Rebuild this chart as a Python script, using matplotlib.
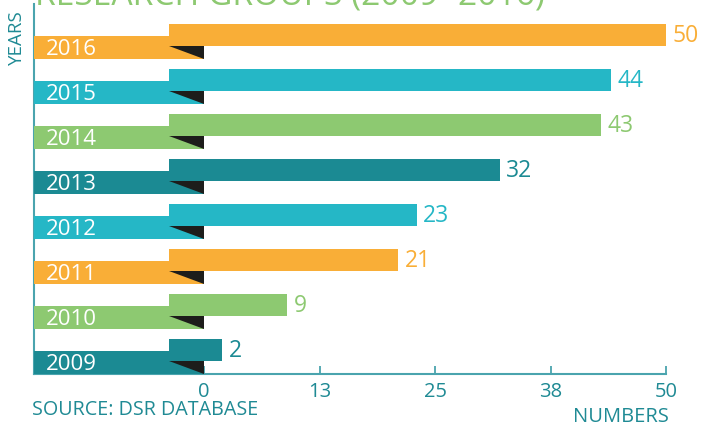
import matplotlib
matplotlib.use("Agg")
import matplotlib.pyplot as plt
from matplotlib.patches import Polygon

plt.rcParams['font.family'] = ['Open Sans', 'DejaVu Sans']

# ---- data ----
years = ['2009', '2010', '2011', '2012', '2013', '2014', '2015', '2016']
values = [2, 9, 21, 23, 32, 43, 44, 50]
bar_colors = ['#1b8a93', '#8dc971', '#f9ae37', '#25b7c6',
              '#1b8a93', '#8dc971', '#25b7c6', '#f9ae37']
tick_values = [0, 12.5, 25, 37.5, 50]
tick_labels = ['0', '13', '25', '38', '50']
title = 'RESEARCH GROUPS (2009- 2016)'

TEAL = '#1f8a94'
AXIS = '#4aa4ae'

W, H = 701, 427
fig = plt.figure(figsize=(W / 100, H / 100), dpi=100)
ax = fig.add_axes([34 / W, (H - 375) / H, (666 - 34) / W, (375 - 5) / H])

xmin, xmax = -18.4, 50
ax.set_xlim(xmin, xmax)
ax.set_ylim(0, 370 / 45)

bar_start = -3.84
upper_off, upper_h = 0.282, 0.496
label_h = 0.511

for i, (yr, v, c) in enumerate(zip(years, values, bar_colors)):
    # label ribbon
    ax.barh(i, 0 - xmin, left=xmin, height=label_h, align='edge',
            color=c, zorder=3, linewidth=0)
    # fold triangle
    tri = Polygon([(bar_start, i + upper_off), (0, i + upper_off), (0, i)],
                  closed=True, facecolor='#1d1d1b', edgecolor='none', zorder=4)
    ax.add_patch(tri)
    # value bar
    ax.barh(i + upper_off, v - bar_start, left=bar_start, height=upper_h,
            align='edge', color=c, zorder=5, linewidth=0)
    ax.text(xmin + 1.3, i + 0.23, yr, color='white', fontsize=16,
            ha='left', va='center', zorder=6)
    ax.text(v + 0.7, i + upper_off + upper_h / 2, str(v), color=c,
            fontsize=16.5, ha='left', va='center', zorder=6)

ax.set_xticks(tick_values)
ax.set_xticklabels(tick_labels)
ax.set_yticks([])
ax.tick_params(axis='x', direction='in', length=6, width=1.3, color=AXIS,
               labelcolor=TEAL, labelsize=14.5, pad=5)
for s in ['top', 'right']:
    ax.spines[s].set_visible(False)
for s in ['bottom', 'left']:
    ax.spines[s].set_color(AXIS)
    ax.spines[s].set_linewidth(1.5)

fig.text(35 / W, 1 - 4.0 / H, title, color='#8dc971', fontsize=24.2,
         ha='left', va='baseline')
fig.text(16.5 / W, 1 - 37.5 / H, 'YEARS', color=TEAL, fontsize=13.5,
         rotation=90, ha='center', va='center')
fig.text(32 / W, 1 - 410 / H, 'SOURCE: DSR DATABASE', color=TEAL,
         fontsize=14.2, ha='left', va='center')
fig.text(669 / W, 1 - 417 / H, 'NUMBERS', color=TEAL, fontsize=14.5,
         ha='right', va='center')

fig.savefig('out.png', dpi=100)
